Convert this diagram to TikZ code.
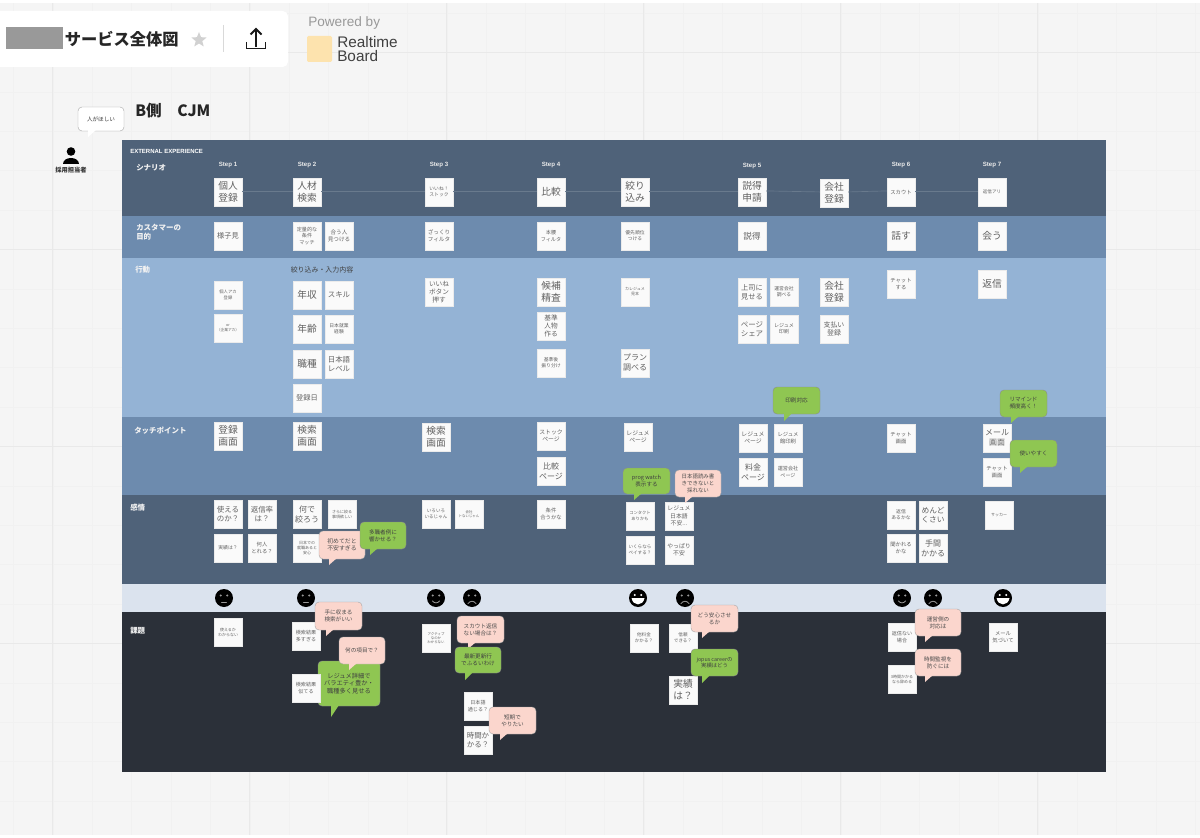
\documentclass[tikz,border=0pt]{standalone}
\usepackage{fontspec}
\usetikzlibrary{shapes.geometric}
\setmainfont{Noto Sans CJK JP}
\newfontfamily\latinb[Scale=1]{Liberation Sans}
\definecolor{bgc}{HTML}{F5F5F5}
\definecolor{gmaj}{HTML}{E9E9E9}
\definecolor{gmin}{HTML}{F1F1F1}
\definecolor{bandA}{HTML}{4F6279}
\definecolor{bandB}{HTML}{6D8BAE}
\definecolor{bandC}{HTML}{94B3D5}
\definecolor{bandD}{HTML}{DBE3EE}
\definecolor{bandE}{HTML}{2B3039}
\definecolor{grn}{HTML}{8FC652}
\definecolor{pnk}{HTML}{FBD6CD}
\definecolor{logoc}{HTML}{FDE3AE}
\newcommand\fs[1]{\fontsize{#1pt}{1.25\dimexpr#1pt\relax}\selectfont}
\tikzset{
  sticky/.style={fill=white!98!black,draw=white!92!black,line width=.2pt,minimum size=21pt,inner sep=0pt,align=center,text=black!62},
  sshadow/.style={fill=black,opacity=.35},
  greenb/.style={fill=grn,draw=black!45,text=black!75},
  pinkb/.style={fill=pnk,draw=black!35,text=black!70},
  whiteb/.style={fill=white,draw=black!35,text=black!80},
  steplabel/.style={text=white!92!black,font={\latinb\bfseries\fs{4.6}}},
  rowlabel/.style={text=white!95!black,anchor=west,align=left,font={\bfseries\fs{5.6}}},
  scenline/.style={draw=bandA!85!white,line width=.5pt},
  facec/.style={circle,fill=black,minimum size=13.5pt,inner sep=0pt},
  fstroke/.style={draw=black!40,line width=.6pt,line cap=round},
}
% name,x,y,font size,text
\newcommand\st[5]{%
  \fill[sshadow] (#2-9,#3+14) rectangle (#2+9,#3+15.2);
  \node[sticky,font={\fs{#4}}] (#1) at (#2,#3) {#5};}
% name,x1,y1,x2,y2,tipx,tipy,style,font size,text
\newcommand\bub[9]{%
  \node[#8,line width=.3pt,rounded corners=3pt,inner sep=0pt,align=center,
        minimum width={(#4-#2)*.75pt},minimum height={(#5-#3)*.75pt},font={\fs{#9}}]
        (#1) at ({(#2+#4)/2},{(#3+#5)/2}) {\bubtext};
  \fill[#8,draw=none] (#6,#5-1) -- (#6,#7) -- (#6+8,#5-1) -- cycle;}
\newcommand\bubtext{}
\newcommand\btx[1]{\renewcommand\bubtext{#1}}
% name,x,y,type
\newcommand\face[4]{%
  \node[facec] (#1) at (#2,#3) {};
  \ifcase#4\relax
    \fill[black!40] (#2-3.2,#3-2.5) circle (1.1);
    \fill[black!40] (#2+3.2,#3-2.5) circle (1.1);
    \draw[fstroke] (#2-2.5,#3+4) -- (#2+2.5,#3+4);
  \or
    \fill[black!40] (#2-3.2,#3-2.5) circle (1.1);
    \fill[black!40] (#2+3.2,#3-2.5) circle (1.1);
    \draw[fstroke] (#2-3.5,#3+3) .. controls (#2-1.5,#3+5.5) and (#2+1.5,#3+5.5) .. (#2+3.5,#3+3);
  \or
    \fill[black!40] (#2-3.2,#3-2.5) circle (1.1);
    \fill[black!40] (#2+3.2,#3-2.5) circle (1.1);
    \draw[fstroke] (#2-4,#3+5.5) .. controls (#2-1.5,#3+2.5) and (#2+1.5,#3+2.5) .. (#2+4,#3+5.5);
  \or
    \fill[white] (#2-3.2,#3-3) circle (1.1);
    \fill[white] (#2+3.2,#3-3) circle (1.1);
    \fill[white] (#2-6.5,#3) .. controls (#2-5,#3+8.5) and (#2+5,#3+8.5) .. (#2+6.5,#3) -- cycle;
  \fi}
\begin{document}
\begin{tikzpicture}[x=.75pt,y=-.75pt]
\useasboundingbox (0,0) rectangle (1200,838);
\fill[bgc] (0,0) rectangle (1200,838);
\foreach \i in {0,...,30} { \draw[gmin,line width=.4pt] ({13.4+39.4*\i},3) -- ({13.4+39.4*\i},835); }
\foreach \i in {0,...,21} { \draw[gmin,line width=.4pt] (0,{13+39.4*\i}) -- (1200,{13+39.4*\i}); }
\foreach \i in {0,...,5} { \draw[gmaj,line width=.5pt] ({52+197*\i},3) -- ({52+197*\i},835); }
\foreach \i in {0,...,3} { \draw[gmaj,line width=.5pt] (0,{52+197*\i}) -- (1200,{52+197*\i}); }
\fill[white] (0,0) rectangle (1200,3);
\fill[white] (0,835) rectangle (1200,838);

% header
\fill[white,rounded corners=4pt] (-10,11) rectangle (288,67);
\fill[black!40] (6,27) rectangle (63,49);
\node[anchor=west,inner sep=0pt,text=black!85,font={\bfseries\fs{12.2}}] (title) at (64.5,39) {サービス全体図};
\node[star,star points=5,star point ratio=2.3,fill=black!18,minimum size=12pt,inner sep=0pt] (starmark) at (199,40) {};
\draw[black!15,line width=.7pt] (223,25) -- (223,52);
\coordinate (upb) at (256,47);
\coordinate (upt) at (256,29);
\draw[black!90,line width=1.4pt] (upb) -- (upt);
\draw[black!90,line width=1.4pt] (250.5,34.5) -- (upt) -- (261.5,34.5);
\draw[black!90,line width=1.4pt] (246.5,42) -- (246.5,48.5) -- (265.5,48.5) -- (265.5,42);
\node[anchor=west,inner sep=0pt,text=black!40,font={\latinb\fs{10.2}}] (powered) at (308,22.5) {Powered by};
\fill[logoc,rounded corners=1pt] (307,36) rectangle (332,62);
\node[anchor=west,inner sep=0pt,text=black!75,align=left,font={\latinb\fontsize{11.5pt}{10.5pt}\selectfont}] (rtb) at (337,49) {Realtime\\Board};

\node[anchor=west,inner sep=0pt,text=black!85,font={\bfseries\fs{11.7}}] (bcjm) at (135,111) {B側　CJM};

% person
\fill[black] (71,151.5) circle (4.3);
\fill[black] (63,164) .. controls (63,156) and (79,156) .. (79,164) -- cycle;
\node[inner sep=0pt,text=black!80,font={\bfseries\fs{4.7}}] (tanto) at (71,170) {採用担当者};
\btx{人がほしい}
\bub{bNeed}{78}{107}{124}{131}{88}{137}{whiteb}{4.2}

% bands
\fill[bandA] (122,140) rectangle (1106,216.5);
\fill[bandB] (122,216.5) rectangle (1106,258);
\fill[bandC] (122,258) rectangle (1106,417);
\fill[bandB] (122,417) rectangle (1106,495);
\fill[bandA] (122,495) rectangle (1106,583.5);
\fill[bandD] (122,583.5) rectangle (1106,612);
\fill[bandE] (122,612) rectangle (1106,772);

\node[anchor=west,inner sep=0pt,text=white,font={\latinb\bfseries\fs{4.5}}] (ext) at (130,151) {EXTERNAL EXPERIENCE};
\node[rowlabel,inner sep=0pt] (lab1) at (136,168) {シナリオ};
\node[rowlabel,inner sep=0pt] (lab2) at (136,232.5) {カスタマーの\\目的};
\node[rowlabel,inner sep=0pt] (lab3) at (135,270) {行動};
\node[rowlabel,inner sep=0pt] (lab4) at (134,431) {タッチポイント};
\node[rowlabel,inner sep=0pt] (lab5) at (130,508) {感情};
\node[rowlabel,inner sep=0pt] (lab6) at (130,631) {課題};
\node[steplabel] (st1) at (228,165) {Step 1};
\node[steplabel] (st2) at (307,165) {Step 2};
\node[steplabel] (st3) at (439,165) {Step 3};
\node[steplabel] (st4) at (551,165) {Step 4};
\node[steplabel] (st5) at (752,166) {Step 5};
\node[steplabel] (st6) at (901,165) {Step 6};
\node[steplabel] (st7) at (992,165) {Step 7};

% big green goes under the stickies
\btx{レジュメ詳細で\\バラエティ豊か・\\職種多く見せる}
\bub{bResume}{318}{661}{380}{706}{331}{717}{greenb}{4.7}

% scenario
\st{a1}{228}{192}{7.3}{個人\\登録}
\st{a2}{307}{192}{7.3}{人材\\検索}
\st{a3}{439}{192}{3.6}{いいね！\\ストック}
\st{a4}{551}{192}{7.3}{比較}
\st{a5}{635}{192}{7.3}{絞り\\込み}
\st{a6}{752}{192}{7.3}{説得\\申請}
\st{a7}{834}{193}{7.3}{会社\\登録}
\st{a8}{901}{192}{4}{スカウト}
\st{a9}{992}{192}{3.4}{返信アリ}
\foreach \p/\q in {a1/a2,a2/a3,a3/a4,a4/a5,a5/a6,a6/a7,a7/a8,a8/a9}
  \draw[scenline] ([yshift=.8pt]\p.east) -- ([yshift=.8pt]\q.west);

% customer goal
\st{c1}{228}{236}{5.4}{様子見}
\st{c2}{307}{236}{3.8}{定量的な\\条件\\マッチ}
\st{c3}{339}{236}{4.2}{合う人\\見つける}
\st{c4}{439}{236}{4.2}{ざっくり\\フィルタ}
\st{c5}{551}{236}{3.8}{本腰\\フィルタ}
\st{c6}{635}{236}{3.6}{優先順位\\つける}
\st{c7}{752}{236}{6.4}{説得}
\st{c8}{901}{236}{7.3}{話す}
\st{c9}{992}{236}{7.3}{会う}

% action
\node[inner sep=0pt,text=black!75,font={\fs{5.2}}] (narrow) at (322,270) {絞り込み・入力内容};
\st{d1}{228}{295}{3.2}{個人アカ\\登録}
\st{d2}{228}{328}{2.8}{or\\（企業アカ）}
\st{d3}{307}{295}{7.3}{年収}
\st{d4}{339}{295}{5.6}{スキル}
\st{d5}{307}{329}{7.3}{年齢}
\st{d6}{339}{329}{3.6}{日本就業\\経験}
\st{d7}{307}{364}{7.3}{職種}
\st{d8}{339}{364}{5.6}{日本語\\レベル}
\st{d9}{307}{398}{5.4}{登録日}
\st{d10}{439}{292}{5}{いいね\\ボタン\\押す}
\st{d11}{551}{292}{7.3}{候補\\精査}
\st{d12}{551}{326}{5}{基準\\人物\\作る}
\st{d13}{551}{363}{3.6}{基準後\\振り分け}
\st{d14}{635}{292}{3}{カレジュメ\\見本}
\st{d15}{635}{363}{6}{プラン\\調べる}
\st{d16}{752}{292}{5.4}{上司に\\見せる}
\st{d17}{784}{292}{3.6}{運営会社\\調べる}
\st{d18}{752}{329}{5.6}{ページ\\シェア}
\st{d19}{784}{329}{3.8}{レジュメ\\印刷}
\st{d20}{834}{292}{7.3}{会社\\登録}
\st{d21}{834}{329}{5.2}{支払い\\登録}
\st{d22}{901}{284}{4}{チャット\\する}
\st{d23}{992}{284}{7.3}{返信}

% touchpoints
\st{t1}{228}{436}{7.3}{登録\\画面}
\st{t2}{307}{436}{7.3}{検索\\画面}
\st{t3}{436}{437}{7.3}{検索\\画面}
\st{t4}{551}{436}{4.4}{ストック\\ページ}
\st{t5}{551}{471}{6}{比較\\ページ}
\st{t6}{638}{437}{4.4}{レジュメ\\ページ}
\st{t7}{753}{438}{4.4}{レジュメ\\ページ}
\st{t8}{788}{438}{4}{レジュメ\\館印刷}
\st{t9}{753}{472}{6}{料金\\ページ}
\st{t10}{788}{472}{3.8}{運営会社\\ページ}
\st{t11}{901}{438}{4}{チャット\\画面}
\st{t12}{997}{438}{6}{メール\\画面}
\st{t13}{997}{472}{4}{チャット\\画面}

% feelings
\st{f1}{228}{514}{5.6}{使える\\のか？}
\st{f2}{262}{514}{5.6}{返信率\\は？}
\st{f3}{228}{548}{3.6}{実績は？}
\st{f4}{262}{548}{4}{何人\\とれる？}
\st{f5}{307}{514}{6}{何で\\絞ろう}
\st{f6}{342}{514}{3}{さらに絞る\\事項欲しい}
\st{f7}{307}{548}{3}{日本での\\就職あると\\安心}
\st{f8}{436}{514}{3.4}{いろいろ\\いるじゃん}
\st{f9}{469}{514}{2.6}{会社\\トないじゃん}
\st{f10}{551}{514}{4}{条件\\合うかな}
\st{f11}{640}{516}{3.2}{コンタクト\\ありかも}
\st{f12}{679}{516}{4.4}{レジュメ\\日本語\\不安...}
\st{f13}{640}{550}{3.4}{いくらなら\\ペイする？}
\st{f14}{679}{550}{4.4}{やっぱり\\不安}
\st{f15}{901}{515}{3.6}{返信\\あるかな}
\st{f16}{933}{515}{5.8}{めんど\\くさい}
\st{f17}{901}{548}{4}{聞かれる\\かな}
\st{f18}{933}{548}{6}{手間\\かかる}
\st{f19}{999}{515}{3}{サッカー}

% faces
\face{e1}{224}{598}{0}
\face{e2}{306}{598}{0}
\face{e3}{436}{598}{1}
\face{e4}{472}{598}{2}
\face{e5}{638}{598}{3}
\face{e6}{685}{598}{2}
\face{e7}{902}{598}{1}
\face{e8}{933}{598}{2}
\face{e9}{1003}{598}{3}

% issues
\st{g1}{228}{632}{3}{使えるか\\わからない}
\st{g2}{306}{636}{3.8}{検索結果\\多すぎる}
\st{g3}{306}{688}{3.8}{検索結果\\似てる}
\st{g4}{436}{638}{2.6}{アクティブ\\なのか\\わからない}
\st{g5}{644}{638}{3.4}{他料金\\かかる？}
\st{g6}{683}{638}{3.4}{信頼\\できる？}
\st{g7}{683}{690}{7.3}{実績\\は？}
\st{g8}{478}{706}{3.8}{日本語\\通じる？}
\st{g9}{478}{740}{5.6}{時間か\\かる？}
\st{g10}{902}{637}{3.8}{返信ない\\場合}
\st{g11}{902}{679}{3}{3時間かかる\\なら辞める}
\st{g12}{1003}{637}{4}{メール\\気づいて}

% bubbles
\btx{印刷対応}\bub{b1}{773}{387}{820}{414}{784}{421}{greenb}{4.2}
\btx{リマインド\\頻度高く！}\bub{b2}{1000}{390}{1047}{417}{1011}{423}{greenb}{4.2}
\btx{使いやすく}\bub{b3}{1010}{440}{1057}{467}{1020}{473}{greenb}{4.2}
\btx{prog watch\\表示する}\bub{b4}{623}{468}{670}{494}{634}{500}{greenb}{4.2}
\btx{日本語読み書\\きできないと\\採れない}\bub{b5}{675}{470}{721}{497}{685}{503}{pinkb}{4.1}
\btx{初めてだと\\不安すぎる}\bub{b6}{319}{531}{365}{559}{329}{565}{pinkb}{4.4}
\btx{多職者例に\\響かせる？}\bub{b7}{360}{522}{406}{549}{370}{555}{greenb}{4.2}
\btx{手に収まる\\検索がいい}\bub{b8}{315}{602}{362}{630}{326}{636}{pinkb}{4.2}
\btx{何の項目で？}\bub{b9}{339}{637}{385}{664}{349}{670}{pinkb}{4.2}
\btx{スカウト返信\\ない場合は？}\bub{b10}{457}{616}{504}{643}{468}{649}{pinkb}{4.2}
\btx{最新更新行\\でふるいわけ}\bub{b11}{455}{647}{501}{673}{465}{680}{greenb}{4.2}
\btx{短期で\\やりたい}\bub{b12}{489}{707}{536}{734}{500}{740}{pinkb}{4.2}
\btx{どう安心させ\\るか}\bub{b13}{691}{605}{738}{632}{702}{638}{pinkb}{4.2}
\btx{jopus careerの\\実績はどう}\bub{b14}{691}{649}{738}{676}{702}{683}{greenb}{4}
\btx{運営側の\\対応は}\bub{b15}{915}{609}{961}{636}{925}{642}{pinkb}{4.2}
\btx{時間監視を\\防ぐには}\bub{b16}{915}{649}{961}{676}{925}{682}{pinkb}{4.2}
\end{tikzpicture}
\end{document}
